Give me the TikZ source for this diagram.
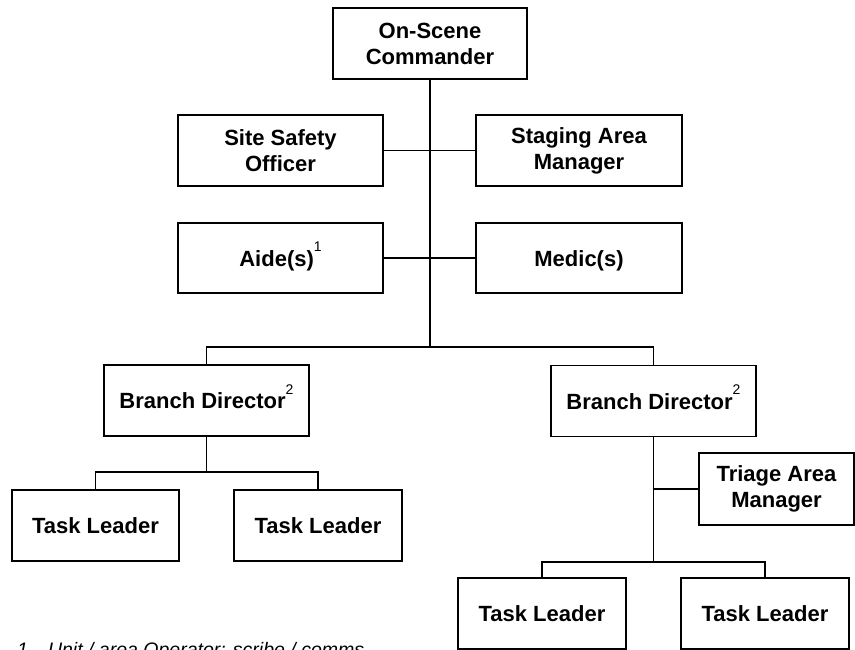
\documentclass[tikz,border=0pt]{standalone}
\usepackage{fontspec}
\setmainfont{Liberation Sans}
\usetikzlibrary{positioning}

\newcommand{\notemark}[1]{\raisebox{14.5pt}{\fontsize{14}{14}\selectfont\mdseries #1}}

\begin{document}
\begin{tikzpicture}[x=1pt, y=-1pt,
	box/.style={draw, line width=1.6pt, align=center, inner sep=0pt, minimum height=71pt,
		font=\fontsize{22}{26}\selectfont\bfseries},
	oneline/.style={text height=16pt, text depth=0pt},
	link/.style={line width=1.2pt}]
\useasboundingbox (0,0) rectangle (855,650);
\node[box, minimum width=194pt] (cmd) at (430,43.5) {On-Scene\\Commander};
\node[box, minimum width=205pt] (safety) at (280.5,150.5) {Site Safety\\Officer};
\node[box, minimum width=206pt] (staging) at (579,150.5) {Staging Area\\Manager};
\node[box, oneline, minimum width=205pt, minimum height=70pt] (aide) at (280.5,258) {Aide(s)\notemark{1}};
\node[box, oneline, minimum width=206pt, minimum height=70pt] (medic) at (579,258) {Medic(s)};
\node[box, oneline, minimum width=205pt] (branchL) at (206.5,400.5) {Branch Director\notemark{2}};
\node[box, oneline, minimum width=205pt] (branchR) at (653.5,401) {Branch Director\notemark{2}};
\node[box, oneline, minimum width=167pt] (taskA) at (95.5,525.5) {Task Leader};
\node[box, oneline, minimum width=168pt] (taskB) at (318,525.5) {Task Leader};
\node[box, minimum width=155pt, minimum height=72pt] (triage) at (776.5,489) {Triage Area\\Manager};
\node[box, oneline, minimum width=168pt] (taskC) at (542,613.5) {Task Leader};
\node[box, oneline, minimum width=168pt] (taskD) at (765,613.5) {Task Leader};
\coordinate (hub) at (430,347);
\coordinate (busL) at (206.5,472);
\coordinate (busR) at (653.5,562);
\draw[link] (cmd.south) -- (hub);
\draw[link] (safety.east) -- (staging.west);
\draw[link] (aide.east) -- (medic.west);
\draw[link] (branchL.north) |- (hub) -| (branchR.north);
\draw[link] (branchL.south) -- (busL);
\draw[link] (taskA.north) |- (busL) -| (taskB.north);
\draw[link] (branchR.south) -- (busR);
\draw[link] (triage.west) -- (branchR.south |- triage.west);
\draw[link] (taskC.north) |- (busR) -| (taskD.north);
\node[anchor=base west, inner sep=0pt, font=\fontsize{19.5}{23}\selectfont\itshape] (note) at (17,656)
	{1\hspace{20pt}Unit / area Operator: scribe / comms};
\end{tikzpicture}
\end{document}
